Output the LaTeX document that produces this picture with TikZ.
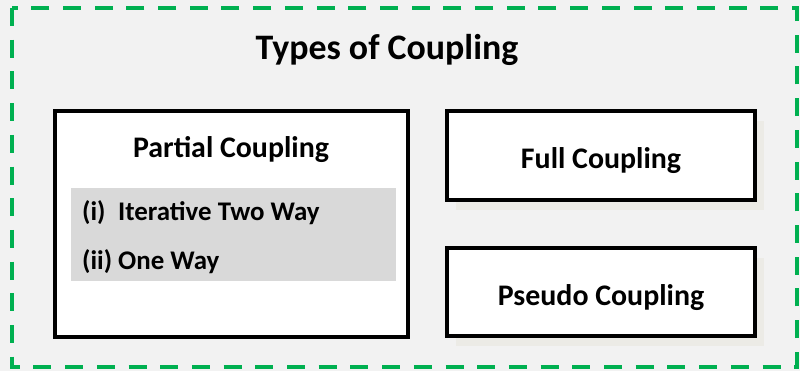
\documentclass[tikz,border=0pt]{standalone}
\usepackage{fontspec}
\setmainfont{Carlito}
\definecolor{canvas}{HTML}{F2F2F2}
\definecolor{frameGreen}{HTML}{00B050}
\definecolor{listGray}{HTML}{D9D9D9}
\definecolor{boxShade}{HTML}{ECEBE6}
\begin{document}
\begin{tikzpicture}[x=1bp,y=-1bp,
  typebox/.style={draw=black, line width=4.5bp, fill=white, inner sep=0pt},
  shadedbox/.style={typebox,
    preaction={fill=boxShade, draw=none, transform canvas={xshift=9bp,yshift=-10bp}}},
  heading/.style={font=\bfseries\fontsize{30}{34}\selectfont, anchor=base, inner sep=0pt},
  item/.style={font=\bfseries\fontsize{27}{31}\selectfont, anchor=base west, inner sep=0pt}]
\useasboundingbox (0,0) rectangle (800,371);
\fill[canvas] (0,0) rectangle (800,371);

% outer dashed frame
\draw[frameGreen, line width=4bp, dash pattern=on 18bp off 13.7bp]
  (12,8) rectangle (797,367);

\node[font=\bfseries\fontsize{36}{40}\selectfont, anchor=base, inner sep=0pt]
  (title) at (387,59) {Types of Coupling};

% partial coupling box with its list
\node[typebox, minimum width=353bp, minimum height=226bp] (partial) at (231.5,224) {};
\node[heading] (partialT) at (231,157) {Partial Coupling};
\node[fill=listGray, minimum width=325bp, minimum height=93bp, inner sep=0pt] (list) at (233.5,234.5) {};
\node[item] (it1) at (82,220) {\makebox[36bp][l]{(i)}Iterative Two Way};
\node[item] (it2) at (82,269) {\makebox[36bp][l]{(ii)}One Way};

% full and pseudo coupling boxes
\node[shadedbox, minimum width=308bp, minimum height=89bp] (full) at (601,155.5) {};
\node[heading] (fullT) at (601,168) {Full Coupling};
\node[shadedbox, minimum width=308bp, minimum height=88bp] (pseudo) at (601,292) {};
\node[heading] (pseudoT) at (601,305) {Pseudo Coupling};
\end{tikzpicture}
\end{document}
